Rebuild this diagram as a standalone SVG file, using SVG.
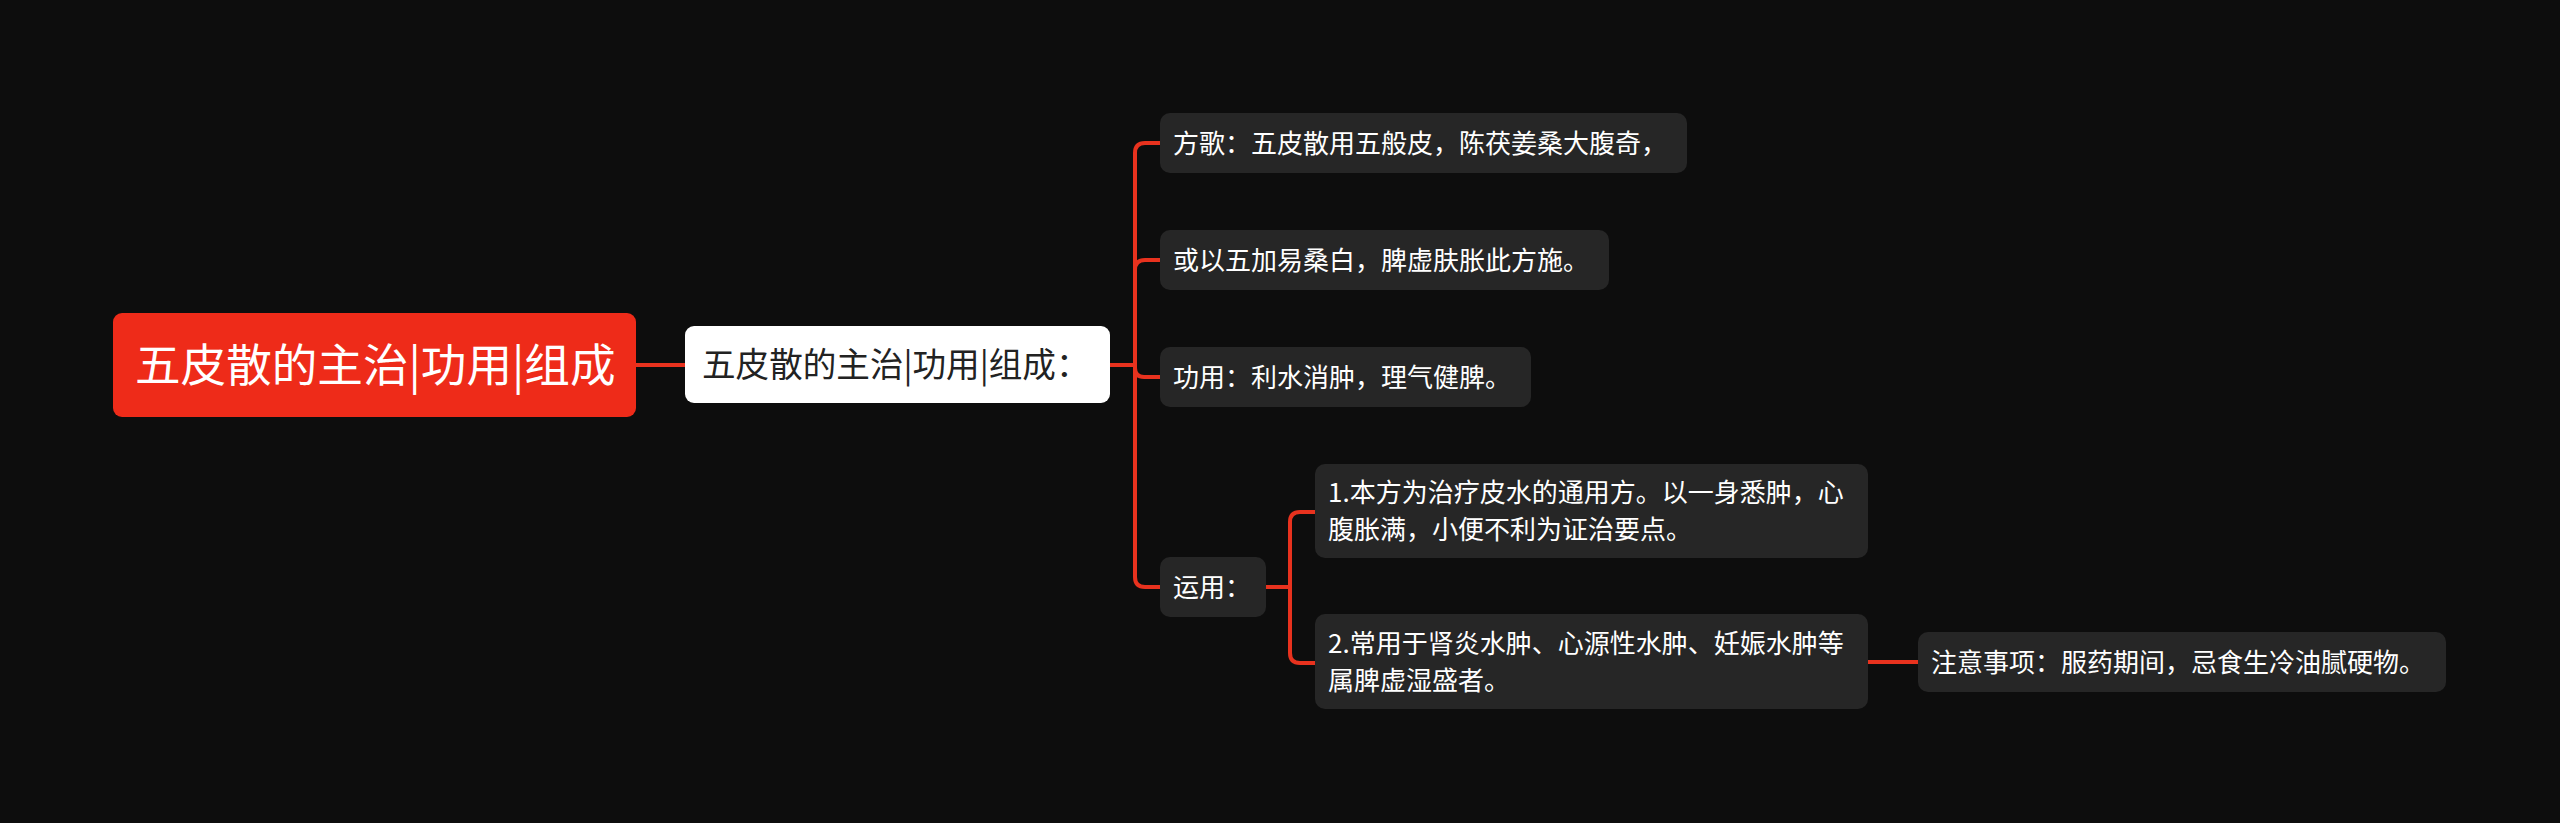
<svg xmlns="http://www.w3.org/2000/svg" width="2560" height="823" viewBox="0 0 2560 823">
<style>
text{font-family:"Noto Sans CJK SC","Noto Sans",sans-serif;}
.leaf rect{fill:#262626;}
.leaf text{fill:#ffffff;font-size:26px;}
.conn path{fill:none;stroke:#e8321e;stroke-width:4;}
</style>
<rect x="0" y="0" width="2560" height="823" fill="#0d0d0d"/>
<g class="conn">
<path d="M636 365 H685"/>
<path d="M1110 365 H1135"/>
<path d="M1135 365 V153 Q1135 143 1145 143 H1160"/>
<path d="M1135 365 V270 Q1135 260 1145 260 H1160"/>
<path d="M1135 365 V368 Q1135 377 1144 377 H1160"/>
<path d="M1135 365 V577 Q1135 587 1145 587 H1160"/>
<path d="M1266 587 H1290"/>
<path d="M1290 587 V522 Q1290 512 1300 512 H1315"/>
<path d="M1290 587 V653 Q1290 663 1300 663 H1315"/>
<path d="M1868 662 H1918"/>
</g>
<g id="root">
<rect x="113" y="313" width="523" height="104" rx="9" fill="#ee2b19"/>
<text x="135" y="382" font-size="45.6" fill="#ffffff">五皮散的主治|功用|组成</text>
</g>
<g id="sub">
<rect x="685" y="326" width="425" height="77" rx="9" fill="#ffffff"/>
<text x="702" y="377" font-size="33.6" fill="#222222">五皮散的主治|功用|组成：</text>
</g>
<g id="c1" class="leaf">
<rect x="1160" y="113" width="527" height="60" rx="10"/>
<text x="1173" y="152.5">方歌：五皮散用五般皮，陈茯姜桑大腹奇，</text>
</g>
<g id="c2" class="leaf">
<rect x="1160" y="230" width="449" height="60" rx="10"/>
<text x="1173" y="269.5">或以五加易桑白，脾虚肤胀此方施。</text>
</g>
<g id="c3" class="leaf">
<rect x="1160" y="347" width="371" height="60" rx="10"/>
<text x="1173" y="386.5">功用：利水消肿，理气健脾。</text>
</g>
<g id="c4" class="leaf">
<rect x="1160" y="557" width="106" height="60" rx="10"/>
<text x="1173" y="596.5">运用：</text>
</g>
<g id="s1" class="leaf">
<rect x="1315" y="464" width="553" height="94" rx="10"/>
<text x="1328" y="502">1.本方为治疗皮水的通用方。以一身悉肿，心</text>
<text x="1328" y="539">腹胀满，小便不利为证治要点。</text>
</g>
<g id="s2" class="leaf">
<rect x="1315" y="614" width="553" height="95" rx="10"/>
<text x="1328" y="652.5">2.常用于肾炎水肿、心源性水肿、妊娠水肿等</text>
<text x="1328" y="689.5">属脾虚湿盛者。</text>
</g>
<g id="n1" class="leaf">
<rect x="1918" y="632" width="528" height="60" rx="10"/>
<text x="1931" y="671.5">注意事项：服药期间，忌食生冷油腻硬物。</text>
</g>
</svg>
